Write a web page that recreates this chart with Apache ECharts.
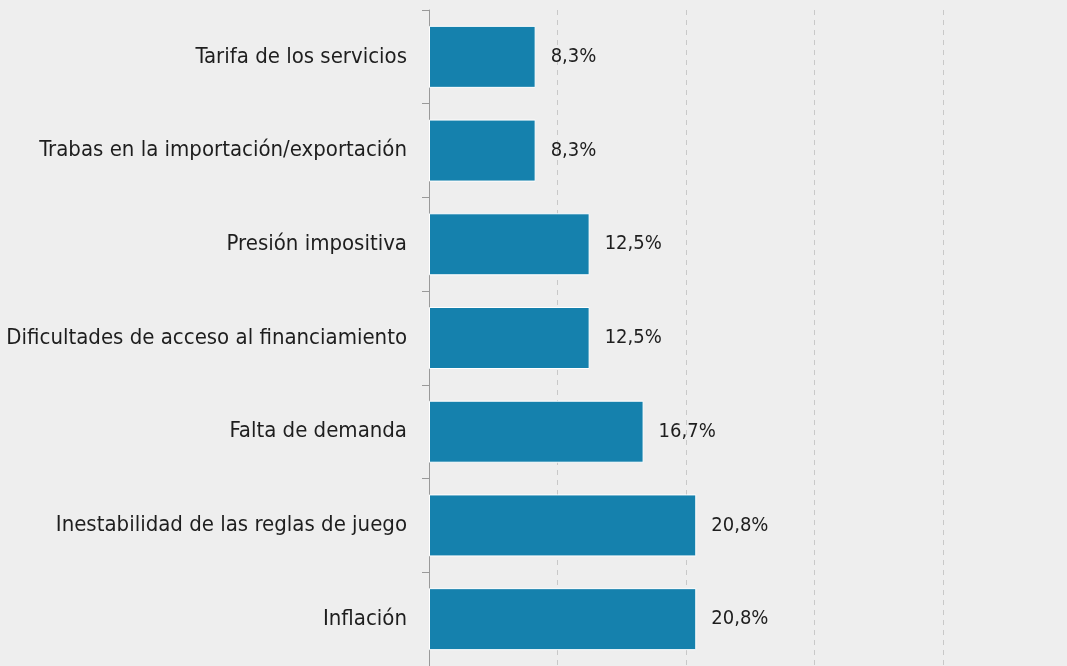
<!DOCTYPE html>
<html><head><meta charset="utf-8">
<script src="https://cdn.jsdelivr.net/npm/echarts@6/dist/echarts.min.js"></script>
<style>html,body{margin:0;padding:0;background:#eeeeee;}#c{width:1067px;height:666px;}</style>
</head><body><div id="c"></div>
<script>
const categories = ["Tarifa de los servicios","Trabas en la importación/exportación","Presión impositiva","Dificultades de acceso al financiamiento","Falta de demanda","Inestabilidad de las reglas de juego","Inflación"];
const values = [8.3, 8.3, 12.5, 12.5, 16.7, 20.8, 20.8];
const xTicks = [0, 10, 20, 30, 40];
const FONT = "DejaVu Sans Condensed";
const chart = echarts.init(document.getElementById('c'));
chart.setOption({
  backgroundColor: '#eeeeee',
  animation: false,
  grid: {left: 429, top: 10, width: 514, height: 658, containLabel: false},
  xAxis: {type: 'value', min: xTicks[0], max: xTicks[xTicks.length-1], interval: 10,
    axisLine: {show: false}, axisTick: {show: false}, axisLabel: {show: false},
    splitLine: {show: true, lineStyle: {color: '#c8c8c8', type: [5, 5], width: 1}}},
  yAxis: {type: 'category', data: categories, inverse: true,
    axisLine: {show: true, lineStyle: {color: '#999999', width: 1}},
    axisTick: {show: true, length: 7, lineStyle: {color: '#999999'}},
    axisLabel: {color: '#1e1e1e', fontSize: 22, fontFamily: FONT, margin: 22}},
  series: [{type: 'bar', data: values, barWidth: 62,
    itemStyle: {color: '#1581ad', borderColor: '#ffffff', borderWidth: 1},
    label: {show: true, position: 'right', distance: 15, color: '#1e1e1e', fontSize: 20, fontFamily: FONT,
      formatter: p => p.value.toFixed(1).replace('.', ',') + '%'}}]
});
</script></body></html>
